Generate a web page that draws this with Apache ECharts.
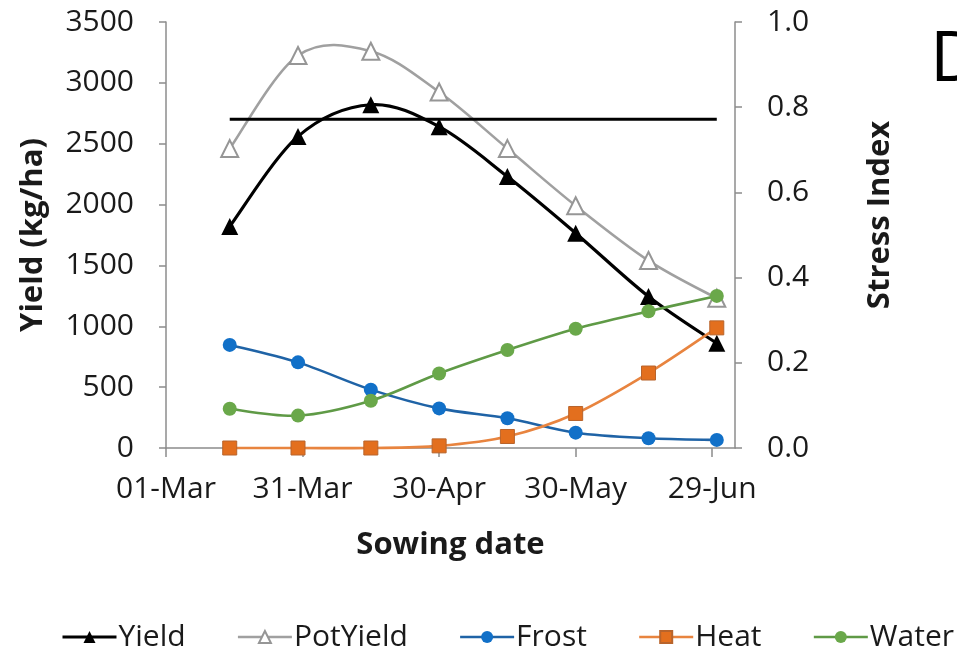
<!DOCTYPE html>
<html>
<head>
<meta charset="utf-8">
<title>Yield and stress index by sowing date</title>
<script src="https://cdn.jsdelivr.net/npm/echarts@6/dist/echarts.min.js"></script>
<style>
  html, body { margin: 0; padding: 0; background: #ffffff; }
  #chart { width: 957px; height: 656px; }
</style>
</head>
<body>
<div id="chart"></div>
<script>
// Sowing dates (day-month) and the date ticks of the x axis
const sowingDates = ['15-Mar', '30-Mar', '15-Apr', '30-Apr', '15-May', '30-May', '15-Jun', '30-Jun'];
const tickLabels = ['01-Mar', '31-Mar', '30-Apr', '30-May', '29-Jun'];
const axisStart = '01-Mar';
const axisEnd = '04-Jul';

// Yields (kg/ha), left axis
const yieldKg = [1820, 2560, 2820, 2640, 2230, 1765, 1245, 860];
const potYieldKg = [2460, 3225, 3260, 2925, 2460, 1990, 1540, 1230];
const referenceYield = 2700;

// Stress indices, right axis
const frostIndex = [0.242, 0.201, 0.137, 0.093, 0.070, 0.036, 0.023, 0.019];
const heatIndex = [0, 0, 0, 0.005, 0.027, 0.081, 0.176, 0.282];
const waterIndex = [0.092, 0.076, 0.111, 0.175, 0.230, 0.280, 0.321, 0.357];

const MONTHS = { Jan: 0, Feb: 1, Mar: 2, Apr: 3, May: 4, Jun: 5, Jul: 6, Aug: 7, Sep: 8, Oct: 9, Nov: 10, Dec: 11 };
function dayOf(label) {
  const [d, m] = label.split('-');
  return Date.UTC(2015, MONTHS[m], +d) / 86400000;
}
const day0 = dayOf(axisStart);
const offset = label => dayOf(label) - day0;
const xs = sowingDates.map(offset);
const pair = vals => vals.map((v, i) => [xs[i], v]);

const FONT = '"Open Sans", "Liberation Sans", sans-serif';
const AXIS_GREY = '#8c8c8c';
const TEXT = '#1a1a1a';

// Series styling
const STYLE = {
  Yield:    { axis: 0, values: yieldKg,    line: '#000000', width: 3.2, symbol: 'triangle',      size: 17, item: { color: '#000000' } },
  PotYield: { axis: 0, values: potYieldKg, line: '#a0a0a0', width: 2.6, symbol: 'emptyTriangle', size: 17, item: { color: '#969696', borderWidth: 1.5 } },
  Frost:    { axis: 1, values: frostIndex, line: '#1f63a6', width: 2.6, symbol: 'circle',        size: 14, item: { color: '#1170c8' } },
  Heat:     { axis: 1, values: heatIndex,  line: '#e8843f', width: 2.6, symbol: 'rect',          size: 14, item: { color: '#e36f1e', borderColor: '#b8642c', borderWidth: 1 } },
  Water:    { axis: 1, values: waterIndex, line: '#5f9a46', width: 2.6, symbol: 'circle',        size: 14, item: { color: '#6aa84a' } }
};
const order = ['Yield', 'PotYield', 'Frost', 'Heat', 'Water'];

// Smoothed connecting curve: cubic Bezier segments with Catmull-Rom
// control points (tension 1/6), evaluated in pixel space via api.coord.
function smoothCurve(name, s, z) {
  const data = pair(s.values);
  return {
    name: name + ' curve',
    type: 'custom',
    yAxisIndex: s.axis,
    silent: true,
    z: z,
    data: data,
    encode: { x: 0, y: 1 },
    renderItem: (params, api) => {
      const i = params.dataIndex;
      if (i >= data.length - 1) return null;
      const P = k => api.coord(data[Math.max(0, Math.min(data.length - 1, k))]);
      const p0 = P(i - 1), p1 = P(i), p2 = P(i + 1), p3 = P(i + 2);
      return {
        type: 'bezierCurve',
        shape: {
          x1: p1[0], y1: p1[1],
          cpx1: p1[0] + (p2[0] - p0[0]) / 6, cpy1: p1[1] + (p2[1] - p0[1]) / 6,
          cpx2: p2[0] - (p3[0] - p1[0]) / 6, cpy2: p2[1] - (p3[1] - p1[1]) / 6,
          x2: p2[0], y2: p2[1]
        },
        style: { stroke: s.line, lineWidth: s.width, fill: null, lineCap: 'round' }
      };
    }
  };
}

const series = [];
order.forEach((name, k) => {
  const s = STYLE[name];
  series.push(smoothCurve(name, s, 2 + k * 2));
  series.push({
    name: name,
    type: 'line',
    yAxisIndex: s.axis,
    data: pair(s.values),
    symbol: s.symbol,
    symbolSize: s.size,
    lineStyle: { color: s.line, width: s.width, opacity: 0 },
    itemStyle: s.item,
    z: 3 + k * 2
  });
  if (name === 'PotYield') {
    series.push({
      name: 'Reference yield',
      type: 'line',
      yAxisIndex: 0,
      data: pair(sowingDates.map(() => referenceYield)),
      symbol: 'none',
      lineStyle: { color: '#000000', width: 3 },
      z: 5
    });
  }
});

const chart = echarts.init(document.getElementById('chart'), null, { renderer: 'canvas' });

chart.setOption({
  animation: false,
  backgroundColor: '#ffffff',
  textStyle: { fontFamily: FONT, color: TEXT },
  grid: { left: 166, right: 222, top: 22, bottom: 208, containLabel: false },
  legend: {
    data: order.map(name => ({
      name: name,
      lineStyle: { color: STYLE[name].line, width: STYLE[name].width, opacity: 1 }
    })),
    right: 3,
    bottom: 4,
    padding: 0,
    itemWidth: 54,
    itemHeight: 15,
    itemGap: 51,
    textStyle: { fontFamily: FONT, fontSize: 30, color: TEXT, padding: [0, 0, 0, -3] }
  },
  xAxis: {
    type: 'value',
    min: 0,
    max: offset(axisEnd),
    interval: 30,
    name: 'Sowing date',
    nameLocation: 'middle',
    nameGap: 82,
    nameTextStyle: { fontFamily: FONT, fontSize: 31, fontWeight: 'bold', color: TEXT },
    splitLine: { show: false },
    axisLine: { onZero: false, lineStyle: { color: AXIS_GREY, width: 1.5 } },
    axisTick: { show: true, length: 9, lineStyle: { color: AXIS_GREY, width: 1.5 } },
    axisLabel: {
      fontFamily: FONT,
      fontSize: 30,
      color: TEXT,
      margin: 26,
      showMaxLabel: false,
      formatter: v => (v % 30 === 0 && tickLabels[v / 30]) ? tickLabels[v / 30] : ''
    }
  },
  yAxis: [
    {
      type: 'value',
      min: 0,
      max: 3500,
      interval: 500,
      name: 'Yield (kg/ha)',
      nameLocation: 'middle',
      nameGap: 117,
      nameRotate: 90,
      nameTextStyle: { fontFamily: FONT, fontSize: 31, fontWeight: 'bold', color: TEXT },
      splitLine: { show: false },
      axisLine: { show: true, lineStyle: { color: AXIS_GREY, width: 1.5 } },
      axisTick: { show: true, length: 7, lineStyle: { color: AXIS_GREY, width: 1.5 } },
      axisLabel: { fontFamily: FONT, fontSize: 30, color: TEXT, margin: 32, formatter: v => String(v) }
    },
    {
      type: 'value',
      min: 0,
      max: 1,
      interval: 0.2,
      position: 'right',
      name: 'Stress Index',
      nameLocation: 'middle',
      nameGap: 130,
      nameRotate: 90,
      nameTextStyle: { fontFamily: FONT, fontSize: 31, fontWeight: 'bold', color: TEXT, padding: [0, 0, 0, 40] },
      splitLine: { show: false },
      axisLine: { show: true, lineStyle: { color: AXIS_GREY, width: 1.5 } },
      axisTick: { show: true, length: 7, lineStyle: { color: AXIS_GREY, width: 1.5 } },
      axisLabel: { fontFamily: FONT, fontSize: 30, color: TEXT, margin: 32, formatter: v => v.toFixed(1) }
    }
  ],
  series: series,
  graphic: [
    {
      type: 'text',
      left: 930,
      top: 26,
      style: { text: 'D', fontFamily: FONT, fontSize: 70, fill: '#000000' }
    }
  ]
});
</script>
</body>
</html>
